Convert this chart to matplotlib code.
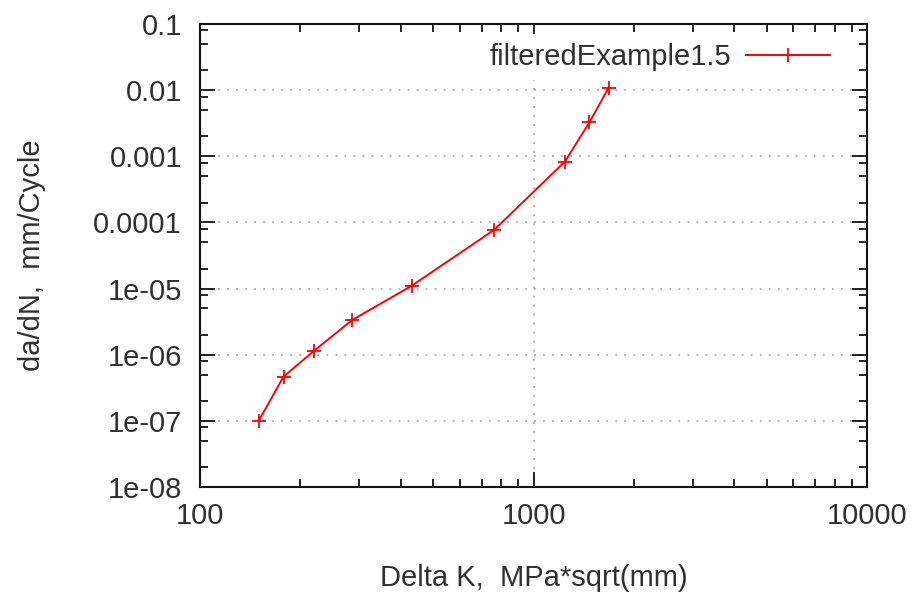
import matplotlib
matplotlib.use('Agg')
from matplotlib import pyplot as plt
from matplotlib.ticker import LogLocator, FixedLocator, FixedFormatter, NullFormatter

# data
delta_k = [150, 178, 220, 286, 431, 762, 1242, 1472, 1679]
da_dn = [1.0e-7, 4.66e-7, 1.15e-6, 3.34e-6, 1.10e-5, 7.7e-5, 8.3e-4, 3.27e-3, 1.08e-2]
series_name = 'filteredExample1.5'

x_ticks = [100, 1000, 10000]
x_tick_labels = ['100', '1000', '10000']
y_ticks = [1e-8, 1e-7, 1e-6, 1e-5, 1e-4, 1e-3, 1e-2, 1e-1]
y_tick_labels = ['1e-08', '1e-07', '1e-06', '1e-05', '0.0001', '0.001', '0.01', '0.1']

plt.rcParams['font.family'] = ['Liberation Sans', 'DejaVu Sans']
txt = '#303030'
fs = 21

fig = plt.figure(figsize=(9.14, 5.97), dpi=100)
ax = fig.add_axes([200 / 914, 1 - 487 / 597, 667 / 914, 463 / 597])

ax.plot(delta_k, da_dn, color='#ff0000', lw=1.4, marker='+', ms=10,
        mew=1.3, label=series_name, zorder=3)

ax.set_xscale('log')
ax.set_yscale('log')
ax.set_xlim(100, 10000)
ax.set_ylim(1e-8, 0.1)

ax.xaxis.set_major_locator(FixedLocator(x_ticks))
ax.xaxis.set_major_formatter(FixedFormatter(x_tick_labels))
ax.xaxis.set_minor_locator(LogLocator(base=10, subs=range(2, 10), numticks=50))
ax.xaxis.set_minor_formatter(NullFormatter())
ax.yaxis.set_major_locator(FixedLocator(y_ticks))
ax.yaxis.set_major_formatter(FixedFormatter(y_tick_labels))
ax.yaxis.set_minor_locator(LogLocator(base=10, subs=[2, 5, 8], numticks=50))
ax.yaxis.set_minor_formatter(NullFormatter())

ax.tick_params(which='both', direction='in', top=True, right=True,
               width=1.3, color='#111111', labelcolor=txt, labelsize=fs)
ax.tick_params(which='major', length=11)
ax.tick_params(which='minor', length=5.5)
ax.tick_params(axis='x', pad=11)
ax.tick_params(axis='y', pad=13)
for s in ax.spines.values():
    s.set_linewidth(1.5)
    s.set_color('#111111')

ax.grid(which='major', ls=(0, (1, 4)), lw=1.3, color='#a8a8a8')

ax.set_xlabel('Delta K,  MPa*sqrt(mm)', fontsize=fs, color=txt)
ax.xaxis.label.set_va('center')
ax.xaxis.set_label_coords(0.5, (487 - 578) / 463)
ax.set_ylabel('da/dN,  mm/Cycle', fontsize=fs, color=txt)
ax.yaxis.label.set_va('center')
ax.yaxis.set_label_coords((32 - 200) / 667, 0.5)

leg = ax.legend(loc='center right', bbox_to_anchor=((833 + 6) / 914, 1 - 57 / 597),
                bbox_transform=fig.transFigure, fontsize=fs, markerfirst=False,
                handlelength=2.9, handletextpad=0.5, borderpad=0.3,
                borderaxespad=0, frameon=True, fancybox=False)
leg.get_frame().set_facecolor('white')
leg.get_frame().set_edgecolor('none')
leg.get_frame().set_alpha(1)
leg.set_zorder(5)
for t in leg.get_texts():
    t.set_color(txt)

fig.savefig('out.png', dpi=100)
